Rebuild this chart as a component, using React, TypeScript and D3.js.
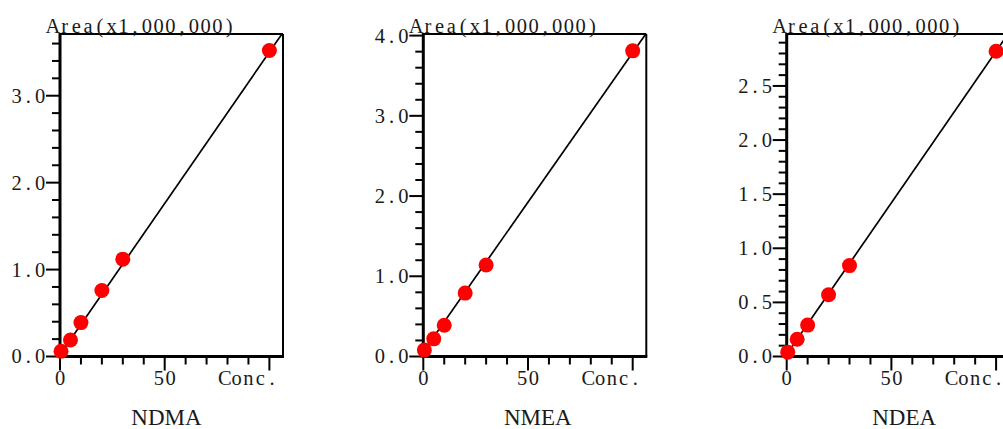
import React from 'react';
import * as d3 from 'd3';

// calibration data (concentration vs area in millions)
const panelNames = ['NDMA', 'NMEA', 'NDEA'];
const concentrations = [0.5, 5, 10, 20, 30, 100];
const ndmaArea = [0.06, 0.19, 0.39, 0.76, 1.12, 3.52];
const nmeaArea = [0.08, 0.22, 0.39, 0.79, 1.14, 3.81];
const ndeaArea = [0.04, 0.16, 0.29, 0.57, 0.84, 2.82];

// fitted line ends (at conc 0 and 110), clipped to the frame
const lineConc = [0, 110];
const ndmaLine = [0.02, 3.85];
const nmeaLine = [0.06, 4.16];
const ndeaLine = [0.02, 3.1];

// axis settings
const yMaxes = [3.71, 4.02, 2.98];
const yMajorSteps = [1, 1, 0.5];
const yMinorSteps = [0.2, 0.2, 0.1];
const xMax = 106.5;
const xMinorTicks = [0, 10, 20, 30, 40, 50, 60, 70, 80, 90, 100];
const xMajorTicks = [0, 50, 100];
const xLabelValues = [0, 50, 90];
const xLabelTexts = ['0', '50', 'Conc.'];
const yTitle = 'Area(x1,000,000)';

const areas = [ndmaArea, nmeaArea, ndeaArea];
const lines = [ndmaLine, nmeaLine, ndeaLine];

const W = 1003;
const H = 429;
const panelLefts = [60, 423.3, 786.7];
const subtitleShift = [-5, 3, 6];
const plotW = 223;
const top = 34;
const bottom = 356.5;
const cell = 11.75; // half-width character cell, like the original instrument font
const serifFont = '"Liberation Serif", "DejaVu Serif", serif';
const ink = '#1a1a1a';

const range = (step, max) => {
  const out = [];
  for (let i = 0; i * step <= max + 1e-9; i++) out.push(+(i * step).toFixed(3));
  return out;
};

// text laid out in fixed cells so it looks like the monospaced serif of the source
const CellText = ({ x, y, text, anchor = 'start', dy = '0' }) => {
  const chars = text.split('');
  const total = chars.length * cell;
  const start = anchor === 'end' ? x - total : anchor === 'middle' ? x - total / 2 : x;
  return (
    <text y={y} dy={dy} fontFamily={serifFont} fontSize={20.5} fill={ink} textAnchor="middle">
      {chars.map((c, i) => (
        <tspan key={i} x={start + (i + 0.5) * cell}>{c}</tspan>
      ))}
    </text>
  );
};

const Panel = ({ idx }) => {
  const left = panelLefts[idx];
  const x = d3.scaleLinear().domain([0, xMax]).range([left, left + plotW]);
  const y = d3.scaleLinear().domain([0, yMaxes[idx]]).range([bottom, top]);

  const majors = range(yMajorSteps[idx], yMaxes[idx]);
  const minors = range(yMinorSteps[idx], yMaxes[idx]);

  const lineGen = d3.line<number>()
    .x((d, i) => x(lineConc[i]))
    .y((d) => y(d));

  const clipId = 'clip' + idx;

  return (
    <g>
      <defs>
        <clipPath id={clipId}>
          <rect x={left} y={top} width={plotW} height={bottom - top} />
        </clipPath>
      </defs>

      {/* frame */}
      <line x1={left} x2={left + plotW} y1={top} y2={top} stroke="#000" strokeWidth={2} />
      <line x1={left + plotW} x2={left + plotW} y1={top} y2={bottom} stroke="#000" strokeWidth={2} />
      <line x1={left} x2={left} y1={top - 1} y2={bottom + 1.5} stroke="#000" strokeWidth={3} />
      <line x1={left - 1.5} x2={left + plotW + 1} y1={bottom} y2={bottom} stroke="#000" strokeWidth={3} />

      {/* y ticks */}
      {minors.map((v, i) => {
        const isMajor = majors.some((m) => Math.abs(m - v) < 1e-6);
        return (
          <line key={'ym' + i} x1={left - (isMajor ? 14 : 8)} x2={left} y1={y(v)} y2={y(v)}
            stroke="#000" strokeWidth={2} />
        );
      })}
      {majors.map((v, i) => (
        <CellText key={'yl' + i} x={left - 14} y={y(v)} dy="0.34em" anchor="end" text={v.toFixed(1)} />
      ))}

      {/* x ticks */}
      {xMinorTicks.map((v, i) => {
        const isMajor = xMajorTicks.includes(v);
        return (
          <line key={'xm' + i} x1={x(v)} x2={x(v)} y1={bottom} y2={bottom + (isMajor ? 14 : 8)}
            stroke="#000" strokeWidth={2} />
        );
      })}
      {xLabelValues.map((v, i) => (
        <CellText key={'xl' + i} x={x(v)} y={385} anchor="middle" text={xLabelTexts[i]} />
      ))}

      {/* axis title */}
      <CellText x={left - 13} y={32.5} text={yTitle} />

      {/* fitted line */}
      <path d={lineGen(lines[idx]) || ''} fill="none" stroke="#000" strokeWidth={1.7}
        clipPath={'url(#' + clipId + ')'} />

      {/* calibration points */}
      {concentrations.map((c, i) => (
        <circle key={'pt' + i} cx={x(c)} cy={y(areas[idx][i])} r={7.5} fill="#ff0000" />
      ))}

      {/* compound name */}
      <text x={left + plotW / 2 + subtitleShift[idx]} y={425} textAnchor="middle"
        fontFamily={serifFont} fontSize={23} fill={ink}>
        {panelNames[idx]}
      </text>
    </g>
  );
};

const App = () => {
  return (
    <div style={{ position: 'absolute', left: 0, top: 0 }}>
      <svg width={W} height={H} style={{ display: 'block', background: '#fff' }}>
        {panelNames.map((name, i) => (
          <Panel key={name} idx={i} />
        ))}
      </svg>
    </div>
  );
};

export default App;
